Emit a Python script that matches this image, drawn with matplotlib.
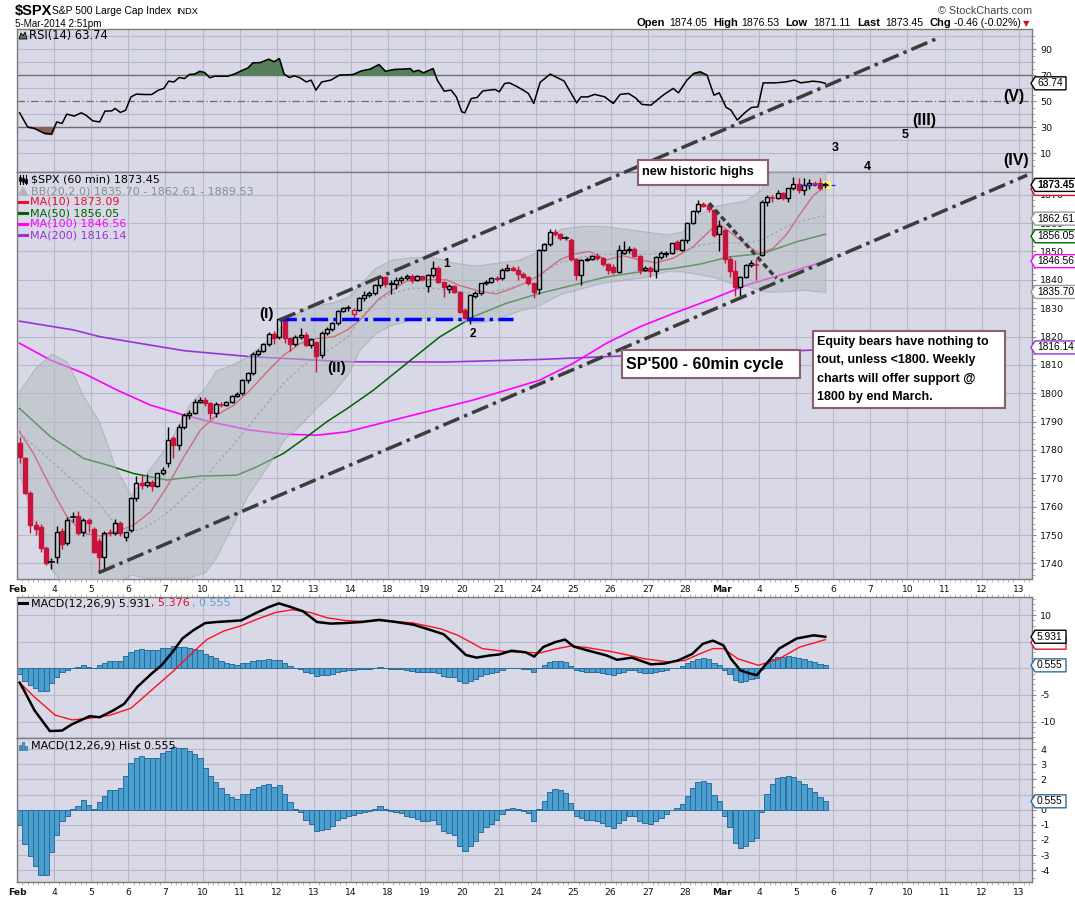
import numpy as np
import matplotlib
matplotlib.use("Agg")
import matplotlib.pyplot as plt
from matplotlib.patches import Rectangle, Polygon
from matplotlib.lines import Line2D
from matplotlib.transforms import Affine2D

plt.rcParams['axes.unicode_minus'] = False

# ------------------------------------------------------------------ data
day_labels = ["Feb", "4", "5", "6", "7", "10", "11", "12", "13", "14", "18", "19", "20", "21",
              "24", "25", "26", "27", "28", "Mar", "4", "5", "6", "7", "10", "11", "12", "13"]
bars_per_day = 7
prev_close0 = 1782.6

opens = [1782.3, 1777.0, 1764.9, 1753.5, 1753.0, 1745.3, 1740.3,
         1742.3, 1751.4, 1747.3, 1756.0, 1756.7, 1750.9, 1755.3,
         1752.3, 1748.0, 1742.3, 1751.0, 1750.6, 1754.2, 1749.2,
         1751.7, 1762.9, 1768.4, 1767.8, 1768.6, 1767.3, 1771.7,
         1775.5, 1784.1, 1781.7, 1788.2, 1792.3, 1793.2, 1797.0,
         1797.5, 1796.6, 1793.0, 1796.2, 1796.0, 1796.8, 1799.0,
         1800.2, 1804.6, 1807.2, 1813.8, 1815.0, 1817.2, 1821.0,
         1819.8, 1826.0, 1819.3, 1817.3, 1819.7, 1820.7, 1817.0,
         1818.0, 1813.4, 1821.3, 1822.8, 1824.6, 1829.0, 1829.9,
         1828.0, 1829.5, 1833.4, 1834.5, 1835.2, 1838.0, 1841.0,
         1838.5, 1838.5, 1840.0, 1840.7, 1841.5, 1840.0, 1841.2,
         1837.8, 1841.6, 1844.3, 1839.3, 1836.9, 1837.8, 1835.8,
         1829.3, 1826.4, 1834.2, 1835.2, 1838.7, 1839.3, 1840.8,
         1840.5, 1843.6, 1844.3, 1843.6, 1842.2, 1841.0, 1838.7,
         1836.6, 1850.5, 1852.6, 1856.9, 1856.1, 1854.6, 1854.2,
         1847.2, 1841.6, 1847.0, 1847.5, 1848.5, 1847.6, 1845.7,
         1844.5, 1842.8, 1849.3, 1850.6, 1851.0, 1848.3, 1843.4,
         1844.3, 1843.2, 1848.1, 1849.0, 1849.6, 1853.4, 1850.5,
         1854.0, 1860.0, 1864.2, 1866.6, 1866.5, 1864.6, 1856.3,
         1857.7, 1847.5, 1843.0, 1837.5, 1841.0, 1845.2, 1845.5,
         1848.7, 1867.5, 1869.3, 1869.0, 1870.7, 1869.0, 1872.2,
         1873.8, 1871.5, 1873.5, 1874.0, 1874.0, 1873.9]
highs = [1784.7, 1777.5, 1765.5, 1755.0, 1754.0, 1746.0, 1742.0,
         1753.2, 1752.5, 1756.5, 1758.0, 1758.5, 1756.0, 1756.0,
         1753.0, 1749.0, 1751.5, 1752.0, 1755.5, 1755.0, 1751.0,
         1763.5, 1770.8, 1771.0, 1771.5, 1769.5, 1772.0, 1774.0,
         1788.2, 1785.0, 1789.0, 1793.0, 1794.0, 1798.0, 1798.5,
         1798.5, 1797.0, 1796.8, 1797.0, 1797.3, 1799.5, 1800.3,
         1805.0, 1807.5, 1814.5, 1815.5, 1817.8, 1821.5, 1821.8,
         1826.5, 1826.3, 1820.0, 1820.5, 1823.0, 1821.5, 1819.5,
         1818.5, 1822.0, 1823.5, 1825.0, 1829.3, 1830.5, 1831.0,
         1830.0, 1834.0, 1836.0, 1836.0, 1838.5, 1841.3, 1841.5,
         1840.0, 1841.0, 1841.5, 1842.0, 1842.0, 1841.8, 1841.5,
         1842.0, 1846.7, 1844.8, 1839.5, 1838.5, 1838.2, 1836.2,
         1830.0, 1835.0, 1836.0, 1839.0, 1840.0, 1841.0, 1841.2,
         1844.0, 1845.5, 1845.0, 1845.0, 1842.8, 1841.5, 1839.0,
         1851.0, 1853.0, 1858.0, 1858.0, 1856.5, 1855.5, 1854.8,
         1847.8, 1847.5, 1848.0, 1848.8, 1849.3, 1848.0, 1846.0,
         1845.5, 1852.2, 1853.6, 1852.0, 1851.5, 1848.8, 1845.0,
         1844.8, 1848.5, 1850.0, 1850.0, 1853.0, 1854.0, 1854.5,
         1860.5, 1864.5, 1868.0, 1867.5, 1867.0, 1865.0, 1861.0,
         1858.0, 1848.5, 1847.0, 1841.5, 1845.5, 1846.8, 1847.5,
         1868.0, 1870.0, 1870.0, 1871.5, 1871.0, 1872.5, 1876.2,
         1876.0, 1876.0, 1875.5, 1875.0, 1875.9, 1874.5]
lows = [1775.3, 1764.5, 1750.6, 1750.0, 1744.0, 1739.5, 1738.0,
        1740.0, 1745.0, 1746.5, 1754.5, 1750.0, 1749.5, 1751.0,
        1743.5, 1736.8, 1738.0, 1749.5, 1750.0, 1749.5, 1748.0,
        1751.0, 1762.0, 1766.2, 1767.0, 1765.5, 1767.0, 1771.0,
        1774.0, 1777.0, 1780.0, 1787.5, 1791.0, 1792.5, 1796.5,
        1795.5, 1791.0, 1791.5, 1795.0, 1795.5, 1796.5, 1798.5,
        1799.5, 1803.5, 1806.5, 1813.0, 1814.5, 1816.5, 1817.5,
        1819.0, 1817.6, 1815.0, 1816.5, 1819.0, 1816.5, 1816.0,
        1807.6, 1812.5, 1820.5, 1822.0, 1824.0, 1828.5, 1829.0,
        1826.0, 1829.0, 1832.5, 1834.0, 1834.5, 1837.0, 1837.5,
        1835.0, 1836.6, 1839.0, 1840.0, 1839.0, 1839.5, 1839.5,
        1835.8, 1841.0, 1838.8, 1833.8, 1835.5, 1835.2, 1828.2,
        1826.0, 1824.4, 1833.5, 1834.8, 1838.0, 1838.8, 1839.6,
        1840.0, 1843.0, 1843.0, 1840.0, 1840.5, 1838.0, 1833.6,
        1835.0, 1850.0, 1852.0, 1855.5, 1854.0, 1854.0, 1846.5,
        1839.9, 1838.0, 1846.5, 1847.0, 1847.0, 1845.0, 1842.0,
        1842.0, 1842.5, 1849.0, 1849.5, 1848.0, 1842.0, 1843.0,
        1841.0, 1840.5, 1847.5, 1848.0, 1849.0, 1850.5, 1850.0,
        1853.0, 1859.5, 1863.5, 1865.5, 1864.0, 1855.0, 1850.0,
        1846.0, 1841.0, 1834.4, 1834.4, 1840.5, 1844.5, 1840.0,
        1848.5, 1866.0, 1867.5, 1868.5, 1868.0, 1867.5, 1871.5,
        1870.5, 1870.0, 1872.0, 1873.0, 1871.5, 1872.5]
closes = [1777.6, 1764.9, 1753.5, 1752.0, 1745.3, 1740.3, 1740.6,
          1751.2, 1747.0, 1755.3, 1756.3, 1750.6, 1755.3, 1754.3,
          1744.1, 1742.3, 1750.8, 1750.6, 1754.3, 1750.6, 1750.9,
          1762.9, 1768.4, 1767.8, 1768.6, 1767.3, 1771.7, 1772.9,
          1783.5, 1781.7, 1788.2, 1792.3, 1793.2, 1797.0, 1797.5,
          1796.4, 1792.9, 1796.2, 1795.9, 1796.8, 1799.0, 1799.7,
          1804.6, 1807.2, 1813.8, 1815.0, 1817.2, 1821.0, 1819.6,
          1826.0, 1819.6, 1817.3, 1819.7, 1820.7, 1817.0, 1819.0,
          1813.2, 1821.3, 1822.8, 1824.6, 1829.0, 1829.9, 1830.2,
          1829.5, 1833.4, 1834.5, 1835.2, 1838.0, 1841.0, 1838.5,
          1839.0, 1840.0, 1840.7, 1841.5, 1840.0, 1841.2, 1840.2,
          1841.6, 1844.3, 1839.3, 1837.5, 1837.8, 1835.8, 1828.7,
          1826.6, 1834.6, 1835.4, 1838.7, 1839.3, 1840.5, 1840.1,
          1843.6, 1844.3, 1843.6, 1842.2, 1841.0, 1838.7, 1835.8,
          1850.5, 1852.6, 1856.9, 1856.1, 1854.6, 1854.8, 1847.2,
          1841.6, 1847.0, 1847.5, 1848.3, 1847.6, 1845.7, 1843.5,
          1842.8, 1850.5, 1850.6, 1851.0, 1848.3, 1843.4, 1844.3,
          1843.2, 1848.1, 1849.5, 1849.6, 1852.8, 1851.0, 1854.0,
          1860.0, 1864.2, 1866.6, 1866.0, 1864.8, 1855.8, 1858.9,
          1847.5, 1843.0, 1837.3, 1841.0, 1845.2, 1845.8, 1845.3,
          1867.5, 1869.3, 1869.0, 1870.7, 1869.0, 1872.2, 1873.8,
          1871.5, 1873.5, 1874.0, 1873.9, 1872.4, 1873.45]

ma10_bar = [0, 2.6, 5.8, 8.9, 12.1, 15.2, 18.4, 21.5, 24.7, 27.8, 31, 34.1, 37.2, 40.4, 43.5,
            46.7, 49.8, 53, 56.1, 59.3, 61.8, 64.2, 67.9, 73, 76.8, 80.5, 83, 86.8, 89.9, 93,
            95.6, 98.1, 101.9, 104.4, 107.5, 110.7, 113.8, 117, 120.1, 123.3, 127, 130.9,
            132.1, 134.6, 137.1, 139.6, 142.1, 144.7, 147.2, 149.7, 152]
ma10_val = [1786.4, 1778.8, 1767, 1756.5, 1750.6, 1749.6, 1751.2, 1753.5, 1758.2, 1767, 1777.6,
            1787, 1792.3, 1795.8, 1801.1, 1807.6, 1813.4, 1817.6, 1819.3, 1819.9, 1822.3, 1825.8,
            1833.5, 1839.5, 1840, 1840, 1838, 1836, 1835, 1837, 1839, 1841.7, 1847, 1849, 1850,
            1847, 1848.5, 1847, 1846, 1847.6, 1851.5, 1858.5, 1859.5, 1856, 1852.3, 1849.3, 1851,
            1856, 1863, 1869.6, 1873.09]
ma50_bar = [0, 5.8, 12.1, 16.5, 21.5, 27.8, 34.1, 41, 44.8, 49.8, 54.2, 58, 61.8, 66.7, 73, 79.3,
            85.6, 91.8, 98.1, 104.4, 110.7, 117, 123.3, 128.3, 134, 140.3, 146.6, 152]
ma50_val = [1794.6, 1784.7, 1777, 1774.7, 1771.7, 1769.4, 1770.8, 1771.1, 1774.1, 1778.8, 1784.7,
            1790, 1794.6, 1801, 1810.5, 1819.9, 1827, 1831.7, 1835.2, 1838.1, 1841, 1842.8, 1844,
            1845.5, 1848.1, 1849.3, 1853.4, 1856.05]
ma100_bar = [0, 5.8, 12.1, 18.4, 24.7, 31, 37.2, 43.5, 49.8, 56.1, 61.8, 73, 85.6, 98.1, 104.4,
             110.7, 117, 123.3, 130.9, 137.1, 143.4, 152]
ma100_val = [1817.6, 1811.7, 1807, 1801.1, 1795.8, 1792.3, 1789.4, 1787, 1785.6, 1785.2, 1786.4,
             1791.7, 1797.6, 1804.6, 1810.5, 1817.6, 1823.4, 1828.1, 1833.4, 1838.1, 1841.6, 1846.56]
ma200_bar = [0, 10.2, 15.2, 31, 43.5, 61.8, 80, 98.1, 113.2, 130, 149.7, 152]
ma200_val = [1825.4, 1822.3, 1819.9, 1815, 1812.9, 1811.1, 1811, 1811.9, 1813.1, 1814, 1815.2, 1816.14]

bb_bar = [0, 3, 6, 9, 12, 15, 18, 21, 24, 28, 32, 35, 37, 40, 43, 47, 50, 53, 56, 59, 62, 64, 67, 70,
          74, 78, 82, 86, 90, 94, 98, 100, 102, 106, 110, 114, 118, 122, 125, 128, 131, 134, 137,
          140, 142, 145, 148, 152]
bb_upper = [1801, 1809, 1814, 1811, 1799, 1790, 1774, 1764, 1772, 1782, 1796, 1802, 1808, 1810,
            1813, 1819, 1825, 1829, 1831, 1832, 1834, 1838, 1844, 1847, 1848, 1848, 1846, 1845,
            1846, 1847, 1850, 1855, 1858, 1859, 1859, 1858, 1857, 1856, 1857, 1863, 1866, 1867,
            1868, 1872, 1880, 1884, 1887, 1889.53]
bb_middle = [1786, 1781, 1776, 1771, 1766, 1761, 1754, 1751, 1753, 1758, 1765, 1770, 1775, 1781,
             1788, 1797, 1804, 1809, 1813, 1816, 1820, 1826, 1832, 1835, 1837, 1837, 1836, 1835,
             1836, 1838, 1841, 1844, 1846, 1848, 1849, 1849, 1849, 1849.5, 1850, 1852, 1853, 1853,
             1853, 1854, 1856, 1859, 1861, 1862.61]
bb_lower = [1771, 1753, 1738, 1731, 1732, 1733, 1733, 1736, 1735, 1735, 1735, 1737, 1742, 1753,
            1764, 1775, 1784, 1789, 1795, 1800, 1807, 1815, 1821, 1824, 1826, 1827, 1826, 1825,
            1826, 1829, 1831, 1833, 1835, 1837, 1839, 1840, 1841, 1843, 1843, 1842, 1841, 1839,
            1838, 1836, 1835.8, 1836, 1836.5, 1835.70]

rsi_bar = [0, 1.5, 2.8, 4.7, 6, 7, 8, 8.9, 10.3, 11.6, 12.5, 13.8, 15.1, 16.1, 17.4, 18, 19, 20, 21,
           22, 23.6, 24.9, 26.2, 27.2, 28.1, 29.1, 30.1, 31.1, 32, 33, 34, 34.9, 35.9, 36.8, 39.2,
           40.5, 41.8, 43.1, 44, 45.4, 47, 48, 49, 49.9, 50.9, 51.8, 52.8, 54.1, 55, 55.9, 57, 58.7,
           60.3, 62.9, 64.5, 66.1, 67.8, 69, 70.7, 72.3, 73.7, 74.3, 75.2, 76.2, 78, 78.8, 80.1,
           81.4, 82.4, 83.4, 84, 85.2, 86.3, 87.4, 88.6, 89.7, 90.5, 91.5, 92.4, 93.7, 95, 96, 97,
           98.2, 100.1, 101.4, 102.7, 105.1, 105.9, 107.2, 108.5, 110.4, 112, 113.3, 114.9, 116.2,
           117.4, 119.1, 121.4, 123.3, 124.3, 125.9, 127.2, 128.4, 129.7, 131, 132, 133.3, 134.2,
           135.4, 136.8, 138.1, 139.3, 140.3, 142.6, 144.5, 146.2, 147.4, 149.7, 151, 152]
rsi_val = [41, 30.2, 29, 25.2, 24.6, 34, 32.8, 40, 38.5, 41, 39.2, 34.8, 34, 42.3, 42.5, 44.4, 41.3,
           43, 53.3, 55.4, 55.1, 55.1, 58.5, 59.8, 65.4, 64.8, 68.2, 67.4, 70.5, 70.8, 73, 72, 68,
           69.2, 69.2, 70.8, 73.3, 75.6, 79.5, 79.7, 82.3, 80.3, 82.8, 70.8, 68.2, 69.5, 68.2, 64.8,
           66.2, 58.5, 64.8, 66.2, 70, 70.5, 73.3, 74.6, 78.2, 73, 74.4, 74.6, 75.1, 72.6, 73.8,
           71.8, 75.1, 66.2, 57.7, 58.5, 53.3, 41.8, 41, 52, 52.8, 57.9, 58.5, 59, 57.2, 63.6, 64.1,
           61.5, 58.5, 55.9, 48.2, 64.5, 70.8, 68.2, 65.6, 48.7, 53.3, 53.3, 55.2, 53.3, 48.2, 55.2,
           55.9, 52.5, 47.5, 46.9, 54.6, 59.8, 56.4, 66.2, 71.3, 72.6, 70, 54.6, 56.4, 45.2, 43.1,
           35.4, 41, 45.2, 45.6, 64.1, 64.1, 64.8, 66.2, 64.1, 65.4, 64.8, 63.74]

macd_bar = [0, 0.8, 2.8, 5.7, 8, 9.9, 11.9, 13.2, 15.1, 17.7, 19.7, 22.2, 24.9, 26.8, 28.8, 30.7,
            32.7, 35, 37.2, 41.8, 44.4, 47, 48.9, 50.9, 53.5, 56.1, 58.7, 61.3, 64.5, 67.8, 71,
            74.3, 77.5, 80, 82.3, 84.2, 86.2, 88.6, 90.5, 92.8, 95.5, 97.1, 98.8, 101, 102.9,
            104.5, 107, 110.8, 112.7, 115.5, 119.1, 121.7, 124.3, 126.9, 128.9, 130.8, 132.8,
            134.2, 136, 137.5, 139.1, 140.5, 143.3, 146.6, 149.8, 152]
macd_val = [-2.7, -4.1, -7.9, -11.8, -11.7, -10.5, -9.6, -9.0, -9.2, -7.9, -6.7, -3.5, -1.0, 0.6,
            3.0, 5.6, 7.1, 8.5, 8.7, 9.0, 10.3, 11.5, 12.2, 11.6, 10.7, 8.7, 8.4, 8.5, 8.7, 9.1,
            8.7, 8.2, 7.2, 6.4, 4.3, 2.5, 2.0, 2.4, 2.6, 3.3, 3.0, 2.2, 4.0, 4.9, 5.4, 4.1, 3.4,
            2.4, 1.6, 2.0, 0.75, 0.9, 1.5, 2.7, 4.6, 5.2, 4.3, 1.8, -0.4, -0.9, -1.3, 0.4, 3.7,
            5.6, 6.2, 5.931]
signal_bar = [0, 2.8, 6.7, 9.9, 13.2, 17.1, 21, 24.9, 28.8, 32.7, 35.3, 38.5, 41.8, 45, 48.3, 51.5,
              54.8, 58, 61.3, 64.5, 67.8, 71, 74.3, 79.5, 82.7, 87.3, 91.2, 95, 98.2, 101.4, 104.1,
              107, 111.3, 115.2, 117.8, 122.4, 125.6, 128.5, 130.8, 132.8, 135.5, 139.4, 143.3,
              147.2, 152]
signal_val = [-2.7, -5.4, -8.8, -9.7, -9.4, -8.8, -7.5, -4.1, -0.7, 3.0, 5.4, 7.0, 8.0, 9.3, 10.5,
              11.0, 10.5, 9.5, 9.0, 8.8, 9.0, 8.8, 8.5, 7.4, 6.2, 3.7, 3.2, 3.0, 2.9, 3.7, 4.2, 3.9,
              3.2, 2.4, 1.8, 1.2, 1.5, 2.8, 3.7, 3.7, 1.8, 0.56, 1.8, 4.0, 5.376]
hist_val = [-1.0, -2.3, -3.05, -3.75, -4.3, -4.3, -2.8, -1.7, -0.72, -0.4,
            0.05, 0.26, 0.64, 0.33, 0.05, 0.53, 0.92, 1.3, 1.3, 1.43,
            2.24, 3.1, 3.44, 3.55, 3.44, 3.44, 3.44, 3.77, 3.9, 4.17,
            4.06, 4.06, 3.9, 3.7, 3.4, 2.74, 2.24, 1.86, 1.43, 1.03,
            0.81, 0.7, 1.03, 1.07, 1.36, 1.51, 1.6, 1.73, 1.47, 1.64,
            1.03, 0.48, 0.05, -0.15, -0.68, -0.94, -1.43, -1.34, -1.27, -1.05,
            -0.68, -0.55, -0.4, -0.33, -0.22, -0.18, -0.07, 0.04, 0.24, 0.04,
            -0.07, -0.13, -0.22, -0.4, -0.5, -0.61, -0.77, -0.77, -0.68, -0.94,
            -1.43, -1.56, -1.7, -2.37, -2.7, -2.37, -2.04, -1.49, -1.16, -0.94,
            -0.68, -0.29, 0.04, 0.1, 0.04, -0.07, -0.22, -0.72, 0.05, 0.59,
            1.18, 1.36, 1.3, 1.1, 0.44, -0.4, -0.55, -0.68, -0.68, -0.72,
            -0.9, -1.05, -1.2, -0.9, -0.68, -0.4, -0.4, -0.72, -0.9, -0.94,
            -0.77, -0.55, -0.29, 0.0, 0.1, 0.37, 0.92, 1.43, 1.8, 1.9,
            1.75, 0.96, 0.55, -0.4, -1.16, -2.2, -2.52, -2.37, -2.04, -1.86,
            -0.13, 1.03, 1.69, 2.08, 2.17, 2.24, 2.17, 1.9, 1.69, 1.43,
            1.18, 0.85, 0.555]

rsi_ticks = [10, 30, 50, 70, 90]
price_ticks = list(range(1740, 1871, 10))
macd_ticks = [-10, -5, 0, 5, 10]
macd_tick_labels = ["-10", "-5", "", "", "10"]
hist_ticks = [-4, -3, -2, -1, 0, 1, 2, 3, 4]
hist_tick_labels = ["-4", "-3", "-2", "-1", "0", "", "2", "3", "4"]

# ------------------------------------------------------------------ style
W, H = 1075, 897
BG = '#d8d8e6'
GRID = '#b8b8cc'
RED = '#c8143c'
MA10C = '#e8102e'
MA50C = '#006400'
MA100C = '#ff00ff'
MA200C = '#9a32d8'
HISTC = '#4a9fcf'
HISTE = '#2a6d9c'
TLC = '#3c3c3c'
BOXE = '#8b5f6e'
LS = 'Liberation Sans'

fig = plt.figure(figsize=(W / 100, H / 100), dpi=100)
fig.patch.set_facecolor('white')
PX = Affine2D().scale(1.0 / W, -1.0 / H).translate(0, 1) + fig.transFigure

L, R = 17, 1032
XMAX = (R - L) / 5.3
PAN = {'rsi': (29, 172, -4.6, 105.6), 'price': (172, 579, 1734.5, 1878.0),
       'macd': (597, 738, -13.1, 13.4), 'hist': (738, 882, -4.78, 4.74)}


def make_ax(key):
    top, bot, lo, hi = PAN[key]
    ax = fig.add_axes([L / W, 1 - bot / H, (R - L) / W, (bot - top) / H])
    ax.set_facecolor(BG)
    ax.set_xlim(0, XMAX)
    ax.set_ylim(lo, hi)
    for s in ax.spines.values():
        s.set_color('#7c7c7c')
        s.set_linewidth(1.0)
    ax.yaxis.tick_right()
    ax.tick_params(axis='y', labelsize=6.8, pad=3, length=3, color='#888888', labelcolor='#111111')
    xt = [bars_per_day * d for d in range(len(day_labels))]
    ax.set_xticks(xt)
    ax.set_xticklabels(day_labels)
    ax.tick_params(axis='x', length=0, labelsize=6.6, pad=4, labelcolor='#111111')
    for t in ax.get_xticklabels():
        if t.get_text() in ('Feb', 'Mar'):
            t.set_fontweight('bold')
    ax.set_xticks(np.arange(0, XMAX, 1.0), minor=True)
    ax.tick_params(axis='x', which='minor', length=2, width=0.5, color='#999999')
    for x in xt[1:]:
        ax.axvline(x, color=GRID, lw=0.8, zorder=0.5)
    return ax


def ypx(key, v):
    top, bot, lo, hi = PAN[key]
    return top + (hi - v) / (hi - lo) * (bot - top)


ax_r = make_ax('rsi')
ax_p = make_ax('price')
ax_m = make_ax('macd')
ax_h = make_ax('hist')
for a in (ax_r, ax_m):
    a.tick_params(axis='x', labelbottom=False)
ax_m.tick_params(axis='x', which='minor', top=True, bottom=False)

# ---------------- RSI
rx = np.array(rsi_bar) + 0.5
rv = np.array(rsi_val)
ax_r.set_yticks(rsi_ticks)
ax_r.set_yticks(range(0, 101, 5), minor=True)
ax_r.tick_params(axis='y', which='minor', length=2, color='#999999')
for v in range(10, 101, 10):
    if v not in (30, 50, 70):
        ax_r.axhline(v, color=GRID, lw=0.8, zorder=0.5)
ax_r.axhline(70, color='#6e6e6e', lw=1.0, zorder=1)
ax_r.axhline(30, color='#6e6e6e', lw=1.0, zorder=1)
ax_r.axhline(50, color='#6e6e6e', lw=0.9, ls=(0, (6, 2, 1, 2)), zorder=1)
ax_r.fill_between(rx, rv, 70, where=rv > 70, interpolate=True, color='#567f5a', zorder=2)
ax_r.fill_between(rx, rv, 30, where=rv < 30, interpolate=True, color='#8d5c5f', zorder=2)
ax_r.plot(rx, rv, color='black', lw=1.1, zorder=3)

# ---------------- price
ax_p.set_yticks(price_ticks)
ax_p.set_yticks(np.arange(1736, 1878, 2), minor=True)
ax_p.tick_params(axis='y', which='minor', length=2, color='#999999')
for v in price_ticks:
    ax_p.axhline(v, color=GRID, lw=0.8, zorder=0.5)

ax_p.plot(np.array(ma200_bar) + 0.5, ma200_val, color=MA200C, lw=1.2, zorder=2)
ax_p.plot(np.array(ma100_bar) + 0.5, ma100_val, color=MA100C, lw=1.2, zorder=2)
ax_p.plot(np.array(ma50_bar) + 0.5, ma50_val, color=MA50C, lw=1.1, zorder=2)
ax_p.plot(np.array(ma10_bar) + 0.5, ma10_val, color=MA10C, lw=1.0, zorder=2)
bx = np.array(bb_bar) + 0.5
ax_p.fill_between(bx, bb_lower, bb_upper, facecolor='#b4bcc0', alpha=0.55, zorder=3,
                  edgecolor='#9aa2aa', lw=0.8)
ax_p.plot(bx, bb_middle, color='#a2a2ae', lw=0.9, ls=(0, (2, 2)), zorder=3)

prev = prev_close0
for i, (o, h, l, c) in enumerate(zip(opens, highs, lows, closes)):
    x = i + 0.5
    col = 'black' if c >= prev else RED
    lo_b, hi_b = min(o, c), max(o, c)
    ax_p.plot([x, x], [l, lo_b], color=col, lw=1.0, zorder=5, solid_capstyle='butt')
    ax_p.plot([x, x], [hi_b, h], color=col, lw=1.0, zorder=5, solid_capstyle='butt')
    if hi_b - lo_b < 0.3:
        ax_p.plot([x - 0.4, x + 0.4], [c, c], color=col, lw=1.2, zorder=5)
    else:
        ax_p.add_patch(Rectangle((x - 0.38, lo_b), 0.76, hi_b - lo_b,
                                 facecolor='none' if c > o else col, edgecolor=col,
                                 lw=1.0, zorder=5))
    prev = c

n = len(closes)
ax_p.add_patch(Rectangle((n - 0.9, closes[-1] - 1.5), 1.4, 3.0, facecolor='#ffff55',
                         edgecolor='none', zorder=4))
ax_p.plot([n - 5.3, n + 1.7], [closes[-1], closes[-1]], color='#1030ff', lw=0.9,
          ls=(0, (3, 2)), zorder=6)

DASHDOT = (0, (5, 1.5, 1, 1.5))
ax_p.plot([15.4, 190.6], [1736.7, 1876.9], color=TLC, lw=2.5, ls=DASHDOT, zorder=6)
ax_p.plot([49.5, 93.6], [1826.0, 1826.0], color='#0000ff', lw=2.5, ls=DASHDOT, zorder=6)
ax_p.plot([130.6, 143.3], [1867.0, 1840.5], color=TLC, lw=2.5, ls=(0, (1.6, 1.0)), zorder=6)
up_line = Line2D([49.5, 174.0], [1825.8, 1925.4], color=TLC, lw=2.5, ls=DASHDOT,
                 transform=ax_p.transData, zorder=3)
fig.add_artist(up_line)

# ---------------- MACD
ax_m.set_yticks(macd_ticks)
ax_m.set_yticklabels(macd_tick_labels)
ax_m.set_yticks(range(-13, 14), minor=True)
ax_m.tick_params(axis='y', which='minor', length=2, color='#999999')
for v in macd_ticks:
    ax_m.axhline(v, color=GRID, lw=0.8, zorder=0.5)
hx = np.arange(len(hist_val)) + 0.5
ax_m.bar(hx, hist_val, width=1.0, color=HISTC, edgecolor=HISTE, lw=0.7, zorder=2)
ax_m.plot(np.array(signal_bar) + 0.5, signal_val, color='#ff1020', lw=1.0, zorder=3)
ax_m.plot(np.array(macd_bar) + 0.5, macd_val, color='black', lw=1.8, zorder=4)

# ---------------- hist
ax_h.set_yticks(hist_ticks)
ax_h.set_yticklabels(hist_tick_labels)
ax_h.set_yticks(np.arange(-4.5, 4.6, 0.5), minor=True)
ax_h.tick_params(axis='y', which='minor', length=2, color='#999999')
for v in hist_ticks:
    ax_h.axhline(v, color=GRID, lw=0.8, zorder=0.5)
ax_h.bar(hx, hist_val, width=1.0, color=HISTC, edgecolor=HISTE, lw=0.7, zorder=2)


# ------------------------------------------------------------------ texts
def ftext(x, y, s, **kw):
    kw.setdefault('va', 'center')
    kw.setdefault('ha', 'left')
    t = fig.text(x, y, s, transform=PX, **kw)
    if hasattr(t, 'set_parse_math'):
        t.set_parse_math(False)
    return t


ftext(15, 11.5, '$SPX', fontsize=10.5, fontweight='bold', family=LS)
ftext(52, 11.5, 'S&P 500 Large Cap Index', fontsize=7.4, family=LS)
ftext(176, 12, 'INDX', fontsize=6.6, family=LS)
ftext(15, 24, '5-Mar-2014 2:51pm', fontsize=7.1, family=LS)
ftext(1032, 11, '\u00a9 StockCharts.com', fontsize=7.8, family=LS, ha='right', color='#444444')
hdr = [(636.7, 'Open', True), (669, '1874.05', False), (713, 'High', True), (741.7, '1876.53', False),
       (785, 'Low', True), (813, '1871.11', False), (857, 'Last', True), (885.7, '1873.45', False),
       (929, 'Chg', True), (954, '-0.46 (-0.02%)', False)]
for x, s, b in hdr:
    ftext(x, 23.5, s, fontsize=8.0 if b else 7.6, fontweight='bold' if b else 'normal', family=LS)
ftext(1023, 24, '\u25bc', fontsize=6, color='#d0102a')

# panel legends
fig.add_artist(Polygon([(19, 39), (21, 33), (23, 36), (25, 32), (27, 39)], closed=True,
                       transform=PX, facecolor='#567f5a', edgecolor='black', lw=0.6))
ftext(29, 35, 'RSI(14) 63.74', fontsize=8.3)

for k, xx in enumerate([20, 23, 26]):
    fig.add_artist(Line2D([xx, xx], [175, 184], transform=PX, color='black', lw=0.8))
    fig.add_artist(Rectangle((xx - 1, 177 + k), 2, 4, transform=PX, facecolor='black',
                             edgecolor='black', lw=0.5))
ftext(31, 180, '$SPX (60 min) 1873.45', fontsize=8, color='black')
fig.add_artist(Polygon([(18, 195), (23, 186), (28, 195)], closed=True, transform=PX,
                       facecolor='#b4b4b8', edgecolor='none'))
ftext(31, 191, 'BB(20,2.0) 1835.70 - 1862.61 - 1889.53', fontsize=8, color='#849090')
leg = [(202, 'MA(10) 1873.09', MA10C), (213, 'MA(50) 1856.05', MA50C),
       (224, 'MA(100) 1846.56', MA100C), (235, 'MA(200) 1816.14', MA200C)]
for y, s, c in leg:
    fig.add_artist(Line2D([19, 27], [y, y], transform=PX, color=c, lw=2.2))
    ftext(30, y, s, fontsize=8, color=c)

fig.add_artist(Line2D([19, 27], [603, 603], transform=PX, color='black', lw=2.2))
ftext(31, 603, 'MACD(12,26,9) 5.931', fontsize=8, color='black')
ftext(151, 603, ', 5.376', fontsize=8, color='#e0102a')
ftext(191.5, 603, ', 0.555', fontsize=8, color='#5aa4d4')
for k, hh in enumerate([5, 8, 4]):
    fig.add_artist(Rectangle((19 + 3 * k, 750 - hh), 2.4, hh, transform=PX,
                             facecolor=HISTC, edgecolor=HISTE, lw=0.5))
ftext(31, 746, 'MACD(12,26,9) Hist 0.555', fontsize=8, color='black')

# wave labels
waves = [(266, 314, '(I)', 11), (337, 368, '(II)', 11), (447, 264, '1', 8.5), (473, 334, '2', 8.5),
         (835, 148, '3', 9), (867, 167, '4', 9), (905, 135, '5', 9), (924, 120, '(III)', 11.5),
         (1016, 161, '(IV)', 11.5), (1014, 97, '(V)', 11.5)]
for x, y, s, fs in waves:
    ftext(x, y, s, ha='center', fontsize=fs, fontweight='bold', family=LS, color='black')


def note_box(x0, y0, x1, y1, lines, fs, line_gap):
    fig.add_artist(Rectangle((x0, y0), x1 - x0, y1 - y0, transform=PX, facecolor='white',
                             edgecolor=BOXE, lw=1.5, zorder=5))
    n_l = len(lines)
    yc = (y0 + y1) / 2 - (n_l - 1) * line_gap / 2
    for k, s in enumerate(lines):
        t = ftext(x0 + 4, yc + k * line_gap, s, fontsize=fs, fontweight='bold', family=LS,
                  color='black')
        t.set_zorder(6)


note_box(638, 160, 768, 185, ['new historic highs'], 9.2, 0)
note_box(622, 350, 800, 378, ["SP'500 - 60min cycle"], 11.5, 0)
note_box(813, 331, 1005, 408, ['Equity bears have nothing to', 'tout, unless <1800. Weekly',
                              'charts will offer support @', '1800 by end March.'], 9, 18.3)


# value tags on right axis (a tag hidden under another one is drawn as a bare shape)
def tag(y, s, ec, bold=False, show_text=True):
    w = 5.6 * len(s) + 3
    pts = [(1031, y), (1035, y - 6.5), (1035 + w, y - 6.5), (1035 + w, y + 6.5), (1035, y + 6.5)]
    fig.add_artist(Polygon(pts, closed=True, transform=PX, facecolor='white', edgecolor=ec,
                           lw=1.0, zorder=5))
    if show_text:
        t = ftext(1037, y, s, fontsize=7.4, fontweight='bold' if bold else 'normal',
                  color='black', family=LS)
        t.set_zorder(6)


tag(ypx('rsi', 63.74), '63.74', 'black')
tag(ypx('price', 1873.09) + 3, '1873.09', '#e0102a', show_text=False)
tag(ypx('price', 1873.45), '1873.45', 'black', bold=True)
tag(ypx('price', 1862.61) + 3, '1862.61', '#9a9a9a')
tag(ypx('price', 1856.05) + 2, '1856.05', MA50C)
tag(ypx('price', 1846.56), '1846.56', MA100C)
tag(ypx('price', 1835.70), '1835.70', '#9a9a9a')
tag(ypx('price', 1816.14), '1816.14', MA200C)
tag(ypx('macd', 5.376) + 3, '5.376', '#e0102a', show_text=False)
tag(ypx('macd', 5.931), '5.931', 'black')
tag(ypx('macd', 0.555), '0.555', '#2a6d9c')
tag(ypx('hist', 0.555), '0.555', '#2a6d9c')

fig.savefig('out.png', dpi=100, facecolor='white')
